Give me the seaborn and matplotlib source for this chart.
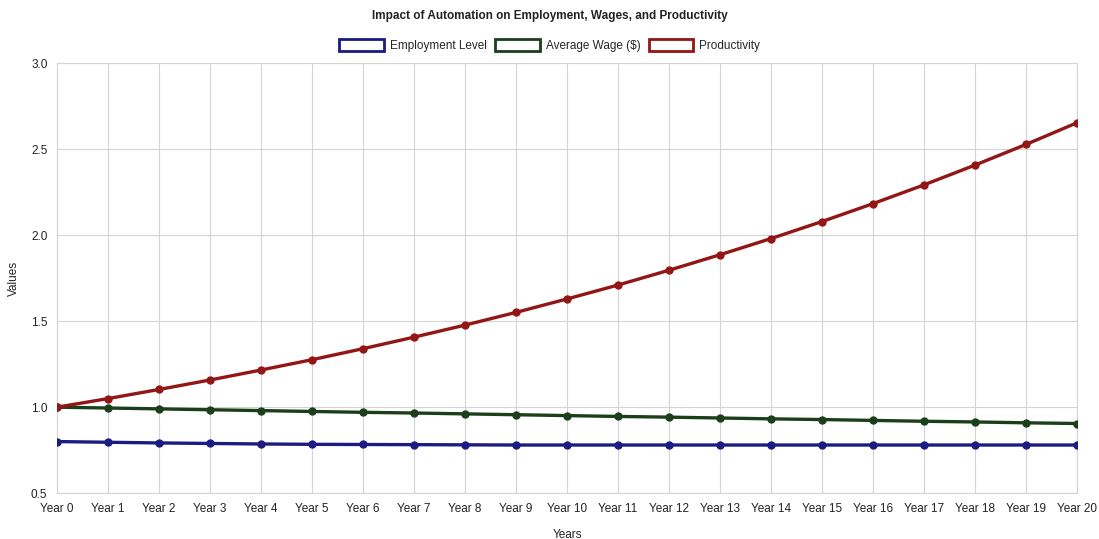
import matplotlib
matplotlib.use('Agg')
import matplotlib.pyplot as plt
from matplotlib.patches import Patch
import pandas as pd
import seaborn as sns

# values
years = ['Year %d' % i for i in range(21)]
employment = [0.800, 0.796, 0.792, 0.789, 0.786, 0.784, 0.783, 0.782, 0.781, 0.780, 0.780,
              0.780, 0.780, 0.780, 0.780, 0.780, 0.780, 0.780, 0.780, 0.780, 0.780]
wage = [1.000, 0.995, 0.990, 0.985, 0.980, 0.975, 0.970, 0.966, 0.961, 0.956, 0.951,
        0.946, 0.942, 0.937, 0.932, 0.928, 0.923, 0.918, 0.914, 0.909, 0.905]
productivity = [1.000, 1.050, 1.103, 1.158, 1.216, 1.276, 1.340, 1.407, 1.477, 1.551, 1.629,
                1.710, 1.796, 1.886, 1.980, 2.079, 2.183, 2.292, 2.407, 2.527, 2.653]

series = ['Employment Level', 'Average Wage ($)', 'Productivity']
colors = ['#1b1b82', '#1a3f1a', '#931616']

df = pd.DataFrame({
    'idx': list(range(len(years))) * 3,
    'value': employment + wage + productivity,
    'series': [s for s in series for _ in years],
})

sns.set_style('white')
plt.rcParams['font.family'] = ['Liberation Sans', 'DejaVu Sans']

fig, ax = plt.subplots(figsize=(10.99, 5.39), dpi=100)
fig.subplots_adjust(left=0.052, right=0.98, top=0.883, bottom=0.085)

sns.lineplot(data=df, x='idx', y='value', hue='series', palette=dict(zip(series, colors)),
             marker='o', markersize=5, linewidth=2.4, legend=False, ax=ax, zorder=3)
for ln in ax.lines:
    ln.set_markeredgecolor(ln.get_color())
    ln.set_markerfacecolor(ln.get_color())
    ln.set_markeredgewidth(1.0)

ax.set_xlim(0, len(years) - 1)
ax.set_ylim(0.5, 3.0)
ax.set_xticks(range(len(years)))
ax.set_xticklabels(years)
ax.set_yticks([0.5, 1.0, 1.5, 2.0, 2.5, 3.0])
ax.set_yticklabels(['0.5', '1.0', '1.5', '2.0', '2.5', '3.0'])
ax.tick_params(axis='both', labelsize=8.5, colors='#d4d4d4', labelcolor='#222222',
               length=5, width=0.8, pad=2)
ax.grid(True, color='#d4d4d4', linewidth=0.8)
for s in ['top', 'right', 'left', 'bottom']:
    ax.spines[s].set_color('#d4d4d4')
    ax.spines[s].set_linewidth(0.8)

ax.set_xlabel('Years', fontsize=8.5, color='#222222', labelpad=10)
ax.set_ylabel('Values', fontsize=8.5, color='#222222', labelpad=8)

fig.suptitle('Impact of Automation on Employment, Wages, and Productivity',
             fontsize=8.5, fontweight='bold', y=0.982, color='#222222')

handles = [Patch(facecolor='white', edgecolor=c, linewidth=2, label=s) for s, c in zip(series, colors)]
fig.legend(handles=handles, loc='center', bbox_to_anchor=(0.5, 0.915), ncol=3, frameon=False,
           fontsize=8.5, handlelength=3.8, handleheight=1.1, columnspacing=0.7, handletextpad=0.5)

plt.savefig('out.png', dpi=100)
